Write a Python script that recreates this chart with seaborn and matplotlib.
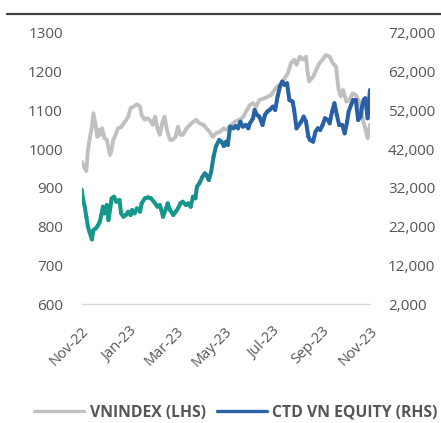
import numpy as np
import pandas as pd
import matplotlib
matplotlib.use('Agg')
import matplotlib.pyplot as plt
import matplotlib.dates as mdates
from matplotlib.collections import LineCollection
from matplotlib.colors import LinearSegmentedColormap
from matplotlib.lines import Line2D
import seaborn as sns

# ── Data ─────────────────────────────────────────────────────
start = pd.Timestamp('2022-11-01')

vn_days = [0, 3, 6, 8, 10, 13, 15, 18, 20, 22, 24, 26, 29, 32, 36, 38, 40, 43, 46, 50,
           55, 59, 62, 66, 70, 74, 76, 80, 83, 86, 90, 93, 96, 99, 102, 105, 108, 112, 115, 119,
           122, 125, 128, 133, 139, 145, 149, 154, 158, 162, 166, 170, 175, 180, 183, 187, 194, 200, 205, 208,
           213, 217, 221, 225, 232, 236, 240, 244, 248, 253, 257, 261, 265, 269, 272, 276, 280, 284, 286, 288,
           293, 297, 301, 305, 309, 314, 318, 322, 325, 328, 331, 335, 339, 343, 347, 352, 356, 359, 362, 365]
vn_values = [968, 955, 944, 998, 1024, 1058, 1093, 1058, 1032, 1050, 1037, 1054, 1028, 1024, 985, 998, 1024, 1037, 1054, 1057,
             1071, 1084, 1106, 1110, 1116, 1110, 1088, 1076, 1080, 1076, 1063, 1084, 1054, 1037, 1067, 1084, 1050, 1024, 1024, 1032,
             1058, 1037, 1037, 1054, 1067, 1076, 1067, 1063, 1054, 1045, 1032, 1041, 1045, 1054, 1050, 1058, 1071, 1076, 1084, 1097,
             1114, 1119, 1110, 1127, 1132, 1136, 1140, 1153, 1162, 1170, 1183, 1196, 1222, 1231, 1218, 1239, 1231, 1239, 1200, 1175,
             1187, 1205, 1222, 1231, 1243, 1239, 1222, 1213, 1157, 1136, 1153, 1123, 1127, 1144, 1140, 1119, 1076, 1054, 1028, 1063]

ctd_days = [0, 2, 4, 6, 8, 10, 13, 15, 18, 21, 23, 25, 27, 29, 32, 34, 36, 38, 41, 44,
            48, 50, 53, 56, 59, 62, 64, 67, 70, 74, 76, 80, 84, 88, 93, 96, 99, 101, 103, 107,
            109, 112, 116, 119, 122, 125, 128, 132, 135, 138, 141, 144, 146, 149, 153, 156, 158, 161, 164, 167,
            170, 174, 177, 180, 183, 185, 188, 192, 195, 198, 201, 204, 208, 211, 213, 217, 219, 222, 225, 229,
            232, 235, 238, 242, 245, 248, 251, 254, 257, 260, 263, 267, 269, 272, 275, 278, 281, 284, 287, 289,
            293, 296, 299, 302, 305, 308, 312, 314, 317, 320, 323, 326, 330, 333, 336, 338, 341, 344, 347, 350,
            353, 355, 357, 359, 362, 365]
ctd_values = [31632, 28876, 27153, 24569, 21985, 20693, 18712, 21124, 21555, 22416, 23277, 25000, 27153, 25430, 27584, 23708, 26292, 29306, 29737, 28445,
              28876, 25430, 24569, 25000, 25861, 25000, 26292, 25430, 26722, 25861, 28015, 29306, 29564, 29306, 28015, 27153, 27584, 26292, 24569, 26722,
              28015, 26292, 25000, 25861, 26722, 28015, 28445, 27584, 28015, 27153, 29737, 29306, 32321, 33182, 34905, 35766, 35335, 34043, 36197, 40073,
              42656, 44379, 43948, 42829, 43948, 43087, 47824, 47393, 47996, 47393, 49116, 47824, 48255, 47393, 48685, 49977, 52131, 50839, 50408, 48255,
              50839, 51700, 52131, 52992, 52131, 55576, 58160, 59452, 58590, 59021, 54715, 54284, 52131, 47393, 48255, 49116, 50408, 49116, 45240, 44379,
              43948, 46532, 47393, 46963, 48255, 49977, 49547, 48685, 51700, 53853, 50839, 48255, 48255, 46102, 49116, 51700, 53423, 54715, 54715, 49547,
              50408, 52992, 54715, 55146, 49977, 57299]

tick_labels = ['Nov-22', 'Jan-23', 'Mar-23', 'May-23', 'Jul-23', 'Sep-23', 'Nov-23']
left_ticks = [600, 700, 800, 900, 1000, 1100, 1200, 1300]
right_ticks = [2000, 12000, 22000, 32000, 42000, 52000, 62000, 72000]

vn = pd.DataFrame({'date': start + pd.to_timedelta(vn_days, unit='D'), 'value': vn_values})
ctd = pd.DataFrame({'date': start + pd.to_timedelta(ctd_days, unit='D'), 'value': ctd_values})

# ── Chart ────────────────────────────────────────────────────
sns.set_theme(style='white')
plt.rcParams['font.family'] = ['Open Sans', 'DejaVu Sans']
text_color = '#555555'
gray = '#c0c0c0'
blue = '#2a64a4'

fig = plt.figure(figsize=(4.41, 4.23), dpi=100)
ax = fig.add_axes([0.185, 0.281, 0.654, 0.641])
ax2 = ax.twinx()

sns.lineplot(data=vn, x='date', y='value', ax=ax, color=gray, linewidth=2.8)

# CTD line with teal -> blue gradient
x = mdates.date2num(ctd['date'])
pts = np.column_stack([x, ctd['value'].to_numpy()])
segs = np.stack([pts[:-1], pts[1:]], axis=1)
cmap = LinearSegmentedColormap.from_list(
    'ctd', [(0, '#13998a'), (0.36, '#15978b'), (0.56, '#2962a6'), (1, '#2a5ea8')])
t = (np.array(ctd_days[:-1]) + np.array(ctd_days[1:])) / 2 / 365
lc = LineCollection(segs, colors=cmap(t), linewidth=2.9, capstyle='round', joinstyle='round')
ax2.add_collection(lc)

xmin, xmax = start, start + pd.Timedelta(days=365)
ax.set_xlim(xmin, xmax)
ax2.set_xlim(xmin, xmax)
ax.set_ylim(600, 1300)
ax2.set_ylim(2000, 72000)

tick_dates = pd.date_range('2022-11-01', '2023-11-01', freq='2MS')
ax.set_xticks(tick_dates)
ax.set_xticklabels(tick_labels, rotation=45, ha='right', rotation_mode='anchor')
ax.set_yticks(left_ticks)
ax.set_yticklabels([str(v) for v in left_ticks])
ax2.set_yticks(right_ticks)
ax2.set_yticklabels([f'{v:,}' for v in right_ticks])

ax.tick_params(axis='x', length=0, pad=14, labelsize=10.5, colors=text_color)
ax.tick_params(axis='y', length=0, pad=13.5, labelsize=11, colors=text_color)
ax2.tick_params(axis='y', length=0, pad=13, labelsize=11, colors=text_color)
ax.set_xlabel('')
ax.set_ylabel('')
ax2.set_ylabel('')
ax.grid(False)
ax2.grid(False)

for a in (ax, ax2):
    for s in a.spines.values():
        s.set_visible(False)
ax.spines['bottom'].set_visible(True)
ax.spines['bottom'].set_color('#d9d9d9')
ax.spines['bottom'].set_linewidth(1.0)

# legend
handles = [Line2D([], [], color=gray, linewidth=2.4),
           Line2D([], [], color=blue, linewidth=2.4)]
leg = fig.legend(handles, ['VNINDEX (LHS)', 'CTD VN EQUITY (RHS)'],
                 loc='center', bbox_to_anchor=(0.535, 0.024), ncol=2, frameon=False,
                 handlelength=3.2, handletextpad=0.35, columnspacing=0.7,
                 prop={'weight': 'bold', 'size': 11.3})
for txt in leg.get_texts():
    txt.set_color(text_color)

# rule under (cropped) title
fig.add_artist(Line2D([0.016, 1.0], [0.966, 0.966], transform=fig.transFigure,
                      color='#404040', linewidth=1.6))

plt.savefig('out.png', dpi=100)
